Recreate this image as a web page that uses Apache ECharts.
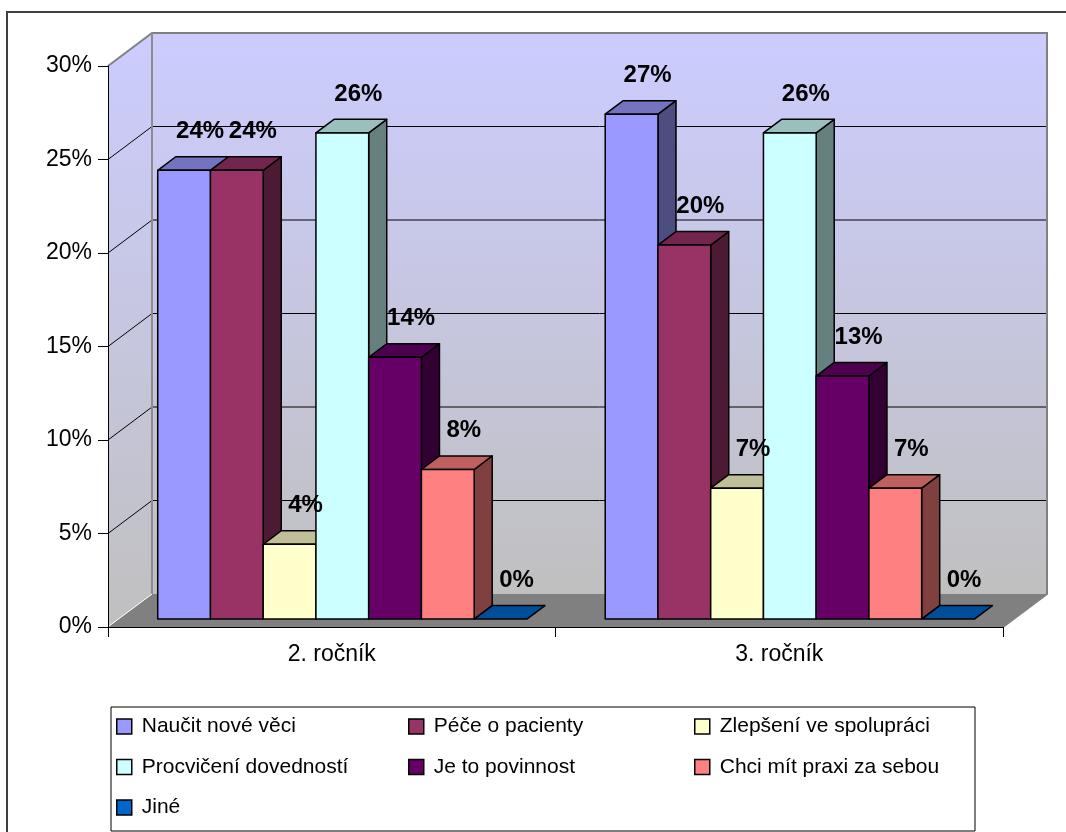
<!DOCTYPE html>
<html>
<head>
<meta charset="utf-8">
<script src="https://cdn.jsdelivr.net/npm/echarts@6/dist/echarts.min.js"></script>
<style>
html,body{margin:0;padding:0;background:#fff;}
#chart{width:1066px;height:832px;}
</style>
</head>
<body>
<div id="chart"></div>
<script>
// ---- data ----
const categories = ['2. ročník', '3. ročník'];
const seriesNames = ['Naučit nové věci', 'Péče o pacienty', 'Zlepšení ve spolupráci', 'Procvičení dovedností', 'Je to povinnost', 'Chci mít praxi za sebou', 'Jiné'];
const naucitNoveVeci = [24, 27];
const peceOPacienty = [24, 20];
const zlepseniVeSpolupraci = [4, 7];
const procviceniDovednosti = [26, 26];
const jeToPovinnost = [14, 13];
const chciMitPraxi = [8, 7];
const jine = [0, 0];
const yTicks = [0, 5, 10, 15, 20, 25, 30];

const seriesValues = [naucitNoveVeci, peceOPacienty, zlepseniVeSpolupraci, procviceniDovednosti, jeToPovinnost, chciMitPraxi, jine];

// ---- styles ----
const faceColors = [
  {front: '#9999FF', top: '#7373BF', side: '#4D4D80'},
  {front: '#993366', top: '#73264D', side: '#4D1A33'},
  {front: '#FFFFCC', top: '#BFBF99', side: '#808066'},
  {front: '#CCFFFF', top: '#99BFBF', side: '#668080'},
  {front: '#660066', top: '#4D004D', side: '#330033'},
  {front: '#FF8080', top: '#BF6060', side: '#804040'},
  {front: '#0066CC', top: '#004D99', side: '#003366'}
];
const DX = 44, DY = -33;          // depth vector of the 3D box
const BAR_FRONT = 0.24, BAR_BACK = 0.65;
const GROUP_RATIO = 0.825;
const FONT = '"Liberation Sans", Arial, sans-serif';

function renderWalls(params, api) {
  const band = api.size([1, 0])[0];
  const xl = api.coord([0, 0])[0] - band / 2;
  const xr = api.coord([categories.length - 1, 0])[0] + band / 2;
  const y0 = api.coord([0, yTicks[0]])[1];
  const yt = api.coord([0, yTicks[yTicks.length - 1]])[1];
  const grad = new echarts.graphic.LinearGradient(0, 0, 0, 1, [
    {offset: 0, color: '#CCCCFF'}, {offset: 1, color: '#C0C0C0'}
  ]);
  const grad2 = new echarts.graphic.LinearGradient(0, 0, 0, 1, [
    {offset: 0, color: '#CCCCFF'}, {offset: 1, color: '#C0C0C0'}
  ]);
  const ch = [];
  ch.push({type: 'polygon', shape: {points: [[xl + DX, yt + DY], [xr + DX, yt + DY], [xr + DX, y0 + DY], [xl + DX, y0 + DY]]}, style: {fill: grad}});
  ch.push({type: 'polygon', shape: {points: [[xl, y0], [xl, yt], [xl + DX, yt + DY], [xl + DX, y0 + DY]]}, style: {fill: grad2}});
  ch.push({type: 'polygon', shape: {points: [[xl, y0], [xr, y0], [xr + DX, y0 + DY], [xl + DX, y0 + DY]]}, style: {fill: '#808080'}});
  for (let i = 1; i < yTicks.length - 1; i++) {
    const y = api.coord([0, yTicks[i]])[1];
    ch.push({type: 'line', shape: {x1: xl + DX, y1: y + DY, x2: xr + DX, y2: y + DY}, style: {stroke: '#000', lineWidth: 1}});
    ch.push({type: 'line', shape: {x1: xl, y1: y, x2: xl + DX, y2: y + DY}, style: {stroke: '#000', lineWidth: 1}});
  }
  // wall edges
  ch.push({type: 'polyline', shape: {points: [[xl, yt], [xl + DX, yt + DY], [xr + DX, yt + DY], [xr + DX, y0 + DY], [xr, y0]]}, style: {stroke: '#808080', lineWidth: 2, fill: 'none'}});
  ch.push({type: 'line', shape: {x1: xl + DX, y1: yt + DY, x2: xl + DX, y2: y0 + DY}, style: {stroke: '#8C8C8C', lineWidth: 2}});
  ch.push({type: 'line', shape: {x1: xl + 1, y1: y0 - 1, x2: xl + DX, y2: y0 + DY}, style: {stroke: '#FFFFFF', lineWidth: 1}});
  return {type: 'group', children: ch};
}

function barGeom(sIdx, api) {
  const cat = api.value(0), v = api.value(1);
  const band = api.size([1, 0])[0];
  const base = api.coord([cat, 0]);
  const top = api.coord([cat, v]);
  const groupW = band * GROUP_RATIO;
  const barW = groupW / seriesNames.length;
  const x0 = base[0] - groupW / 2 + sIdx * barW;
  return {v, x0, x1: x0 + barW, yb: base[1], yt: top[1], barW,
    fx: DX * BAR_FRONT, fy: DY * BAR_FRONT, bx: DX * BAR_BACK, by: DY * BAR_BACK};
}

function makeBarRender(sIdx) {
  return function (params, api) {
    const g = barGeom(sIdx, api);
    const c = faceColors[sIdx];
    const st = {stroke: '#000', lineWidth: 1.5, lineJoin: 'round'};
    const ch = [];
    if (g.v > 0) {
      ch.push({type: 'polygon', shape: {points: [[g.x1 + g.fx, g.yb + g.fy], [g.x1 + g.bx, g.yb + g.by], [g.x1 + g.bx, g.yt + g.by], [g.x1 + g.fx, g.yt + g.fy]]}, style: Object.assign({fill: c.side}, st)});
    }
    ch.push({type: 'polygon', shape: {points: [[g.x0 + g.fx, g.yt + g.fy], [g.x0 + g.bx, g.yt + g.by], [g.x1 + g.bx, g.yt + g.by], [g.x1 + g.fx, g.yt + g.fy]]}, style: Object.assign({fill: c.top}, st)});
    if (g.v > 0) {
      ch.push({type: 'rect', shape: {x: g.x0 + g.fx, y: g.yt + g.fy, width: g.barW, height: g.yb - g.yt}, style: Object.assign({fill: c.front}, st)});
    }
    return {type: 'group', children: ch};
  };
}

function renderLabel(params, api) {
  const sIdx = api.value(2);
  const g = barGeom(sIdx, api);
  const txt = api.value(1) + '%';
  return {type: 'text', style: {text: txt, x: (g.x0 + g.x1) / 2 + g.fx + 16, y: g.yt + g.fy - 39,
    fill: '#000', font: 'bold 24px ' + FONT, align: 'center', verticalAlign: 'middle',
    textAlign: 'center', textVerticalAlign: 'middle'}};
}

const series = [{
  type: 'custom', name: 'walls', renderItem: renderWalls, data: [[0, 0]], z: 0, silent: true
}];
seriesNames.forEach((name, i) => {
  series.push({
    type: 'custom', name: name, renderItem: makeBarRender(i), z: 2,
    itemStyle: {color: faceColors[i].front},
    data: seriesValues[i].map((v, c) => [c, v])
  });
});
const labelData = [];
seriesValues.forEach((arr, s) => arr.forEach((v, c) => labelData.push([c, v, s])));
series.push({type: 'custom', name: 'labels', renderItem: renderLabel, data: labelData, z: 6, silent: true});

const legendCommon = {
  orient: 'vertical', icon: 'rect', itemWidth: 15, itemHeight: 15, itemGap: 19.5,
  selectedMode: false, padding: 0, top: 716,
  itemStyle: {borderColor: '#000', borderWidth: 1.5},
  textStyle: {fontSize: 21, color: '#000', fontFamily: FONT, lineHeight: 21, padding: [0, 0, 0, 5]}
};

const chart = echarts.init(document.getElementById('chart'));
chart.setOption({
  backgroundColor: '#fff',
  animation: false,
  grid: {left: 108, top: 66, width: 895, height: 561, containLabel: false},
  xAxis: {
    type: 'category', data: categories, boundaryGap: true, z: 10,
    axisLine: {lineStyle: {color: '#000', width: 1}},
    axisTick: {show: true, length: 10, alignWithLabel: false, lineStyle: {color: '#000'}},
    axisLabel: {fontSize: 23, color: '#000', margin: 16, fontFamily: FONT},
    splitLine: {show: false}
  },
  yAxis: {
    type: 'value', min: yTicks[0], max: yTicks[yTicks.length - 1], interval: 5, z: 10,
    axisLine: {show: true, lineStyle: {color: '#000', width: 1}},
    axisTick: {show: true, length: 10, lineStyle: {color: '#000'}},
    axisLabel: {formatter: '{value}%', fontSize: 23, color: '#000', margin: 16, fontFamily: FONT},
    splitLine: {show: false}
  },
  legend: [
    Object.assign({}, legendCommon, {left: 116, data: [seriesNames[0], seriesNames[3], seriesNames[6]]}),
    Object.assign({}, legendCommon, {left: 408, data: [seriesNames[1], seriesNames[4]]}),
    Object.assign({}, legendCommon, {left: 694, data: [seriesNames[2], seriesNames[5]]})
  ],
  graphic: [
    {type: 'rect', silent: true, z: -1, shape: {x: 7, y: 12, width: 1120, height: 900}, style: {fill: 'none', stroke: '#404040', lineWidth: 2}},
    {type: 'rect', silent: true, z: -1, shape: {x: 111, y: 707, width: 864, height: 124}, style: {fill: '#fff', stroke: '#000', lineWidth: 1}}
  ],
  series: series
});
</script>
</body>
</html>
